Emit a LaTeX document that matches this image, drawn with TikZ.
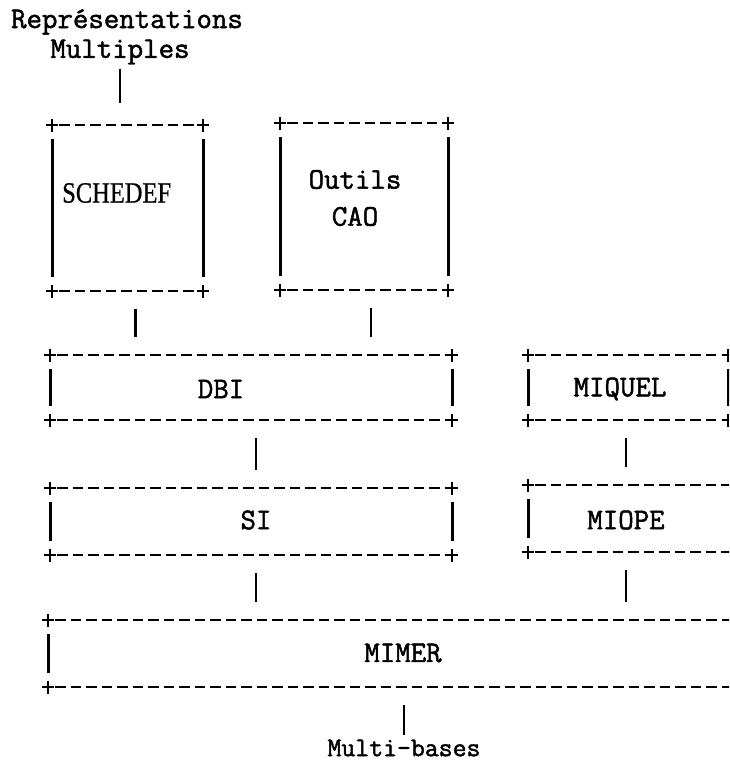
\documentclass[tikz,border=0pt]{standalone}
\usepackage{fontspec}
\newfontfamily\typew[FakeBold=1.6]{Latin Modern Mono}
\newfontfamily\serifface[FakeBold=0.8]{Liberation Serif}
\usetikzlibrary{positioning}

\tikzset{
  blk/.style={inner sep=0pt,outer sep=0pt},
  hline/.style={line width=2.6pt,dash pattern=on 10.5pt off 5pt,shorten <=7pt,shorten >=7pt},
  vside/.style={line width=3pt},
  crs/.style={line width=2.4pt},
  link/.style={line width=2.8pt,shorten <=18pt,shorten >=18pt},
  lbl/.style={font=\typew\fontsize{30}{37}\selectfont,inner sep=0pt}
}

% corner mark
\newcommand{\plusat}[1]{\draw[crs] ([xshift=-6pt]#1) -- ([xshift=6pt]#1) ([yshift=-6.5pt]#1) -- ([yshift=6.5pt]#1);}
% dashed top and bottom, solid sides, marks at the corners
\newcommand{\tbox}[1]{%
  \draw[hline] (#1.north west) -- (#1.north east);
  \draw[hline] (#1.south west) -- (#1.south east);
  \draw[vside] ([yshift=-14pt]#1.north west) -- ([yshift=14pt]#1.south west);
  \draw[vside] ([yshift=-14pt]#1.north east) -- ([yshift=14pt]#1.south east);
  \plusat{#1.north west}\plusat{#1.north east}
  \plusat{#1.south west}\plusat{#1.south east}}

\begin{document}
\begin{tikzpicture}[x=1pt,y=-1pt]
\useasboundingbox (0,0) rectangle (729,761);
\clip (0,0) rectangle (729,761);
\fill[white] (0,0) rectangle (729,761);

% boxes
\node[blk,minimum width=151pt,minimum height=166pt] (sched) at (127.5,208) {};
\node[blk,minimum width=168pt,minimum height=167pt] (outils) at (364,206.5) {};
\node[blk,minimum width=402pt,minimum height=65pt] (dbi) at (251,387.5) {};
\node[blk,minimum width=200pt,minimum height=65pt] (miquel) at (628,387.5) {};
\node[blk,minimum width=402pt,minimum height=67pt] (si) at (251,521.5) {};
\node[blk,minimum width=242pt,minimum height=67pt] (miope) at (649,518.5) {};
\node[blk,minimum width=732pt,minimum height=67pt] (mimer) at (414,653.5) {};
\foreach \b in {sched,outils,dbi,miquel,si,miope,mimer} {\tbox{\b}}

% texts
\node[lbl] (rep) at (127,22) {Représentations};
\node[lbl] (mult) at (120,52) {Multiples};
\node[lbl,font=\serifface\fontsize{24.5}{27}\selectfont,anchor=west] (schedlbl) at (62,193) {\scalebox{1}[1.2]{SCHEDEF}};
\node[lbl,align=center] (outlbl) at (355,198) {Outils\\CAO};
\node[lbl] (dbilbl) at (221,389) {DBI};
\node[lbl] (miqlbl) at (620,389) {MIQUEL};
\node[lbl] (silbl) at (256,520) {SI};
\node[lbl] (miopelbl) at (626,520) {MIOPE};
\node[lbl] (mimerlbl) at (403,653) {MIMER};
\node[lbl,font=\typew\fontsize{27}{29}\selectfont] (baselbl) at (404,748) {Multi-bases};

% connectors
\draw[link,shorten <=4pt,shorten >=22pt] (mult.south) -- (mult.south |- sched.north);
\draw[link] ([xshift=8pt]sched.south) -- ([xshift=8pt]sched.south |- dbi.north);
\draw[link] ([xshift=7pt]outils.south) -- ([xshift=7pt]outils.south |- dbi.north);
\draw[link] (dbi.south -| silbl) -- (silbl |- si.north);
\draw[link] (miquel.south -| miopelbl) -- (miopelbl |- miope.north);
\draw[link] (si.south -| silbl) -- (silbl |- mimer.north);
\draw[link] (miope.south -| miopelbl) -- (miopelbl |- mimer.north);
\draw[link,shorten >=4pt] (mimer.south -| baselbl) -- (baselbl.north);
\end{tikzpicture}
\end{document}
